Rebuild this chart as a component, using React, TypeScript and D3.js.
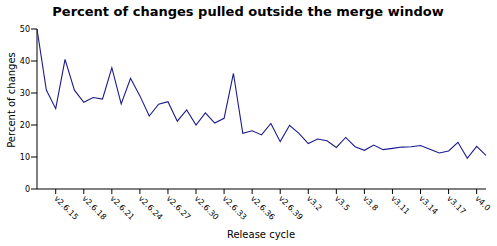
import React from "react";
import * as d3 from "d3";

const releases: string[] = [
  "v2.6.13","v2.6.14","v2.6.15","v2.6.16","v2.6.17","v2.6.18","v2.6.19","v2.6.20","v2.6.21","v2.6.22",
  "v2.6.23","v2.6.24","v2.6.25","v2.6.26","v2.6.27","v2.6.28","v2.6.29","v2.6.30","v2.6.31","v2.6.32",
  "v2.6.33","v2.6.34","v2.6.35","v2.6.36","v2.6.37","v2.6.38","v2.6.39",
  "v3.0","v3.1","v3.2","v3.3","v3.4","v3.5","v3.6","v3.7","v3.8","v3.9","v3.10",
  "v3.11","v3.12","v3.13","v3.14","v3.15","v3.16","v3.17","v3.18","v3.19","v4.0","v4.1",
];

const percents: number[] = [
  50, 30.9, 25.1, 40.5, 30.9, 27.1, 28.6, 28.1, 37.9, 26.6,
  34.6, 29.1, 22.8, 26.5, 27.3, 21.2, 24.7, 20.0, 23.8, 20.6,
  22.1, 36.1, 17.4, 18.2, 16.9, 20.5, 14.8,
  19.9, 17.4, 14.2, 15.6, 15.1, 13.0, 16.1, 13.2, 12.1, 13.75, 12.3,
  12.7, 13.1, 13.2, 13.6, 12.4, 11.25, 11.9, 14.6, 9.6, 13.3, 10.5,
];

const tickLabels: string[] = [
  "v2.6.15","v2.6.18","v2.6.21","v2.6.24","v2.6.27","v2.6.30","v2.6.33","v2.6.36","v2.6.39",
  "v3.2","v3.5","v3.8","v3.11","v3.14","v3.17","v4.0",
];

const yTicks: number[] = [0, 10, 20, 30, 40, 50];

const title = "Percent of changes pulled outside the merge window";
const xTitle = "Release cycle";
const yTitle = "Percent of changes";

export default function App() {
  const W = 497, H = 246;
  const left = 37, right = 486, top = 29, bottom = 189;
  const x = d3.scalePoint<string>().domain(releases).range([left, right]);
  const y = d3.scaleLinear().domain([0, 50]).range([bottom, top]);
  const line = d3
    .line<number>()
    .x((_, i) => x(releases[i]) as number)
    .y((d) => y(d));
  const font = "DejaVu Sans, sans-serif";
  return (
    <svg
      width={W}
      height={H}
      style={{ position: "absolute", left: 0, top: 0, background: "#fff" }}
      fontFamily={font}
    >
      <text x={248} y={16} textAnchor="middle" fontSize={13} fontWeight="bold" fill="#000">
        {title}
      </text>
      {/* y axis */}
      <line x1={left} x2={left} y1={top} y2={bottom} stroke="#000" strokeWidth={1} />
      {yTicks.map((t) => (
        <g key={t}>
          <line x1={left - 6} x2={left} y1={y(t)} y2={y(t)} stroke="#000" />
          <text x={left - 7} y={y(t)} dy="0.35em" textAnchor="end" fontSize={8} fill="#000">
            {t}
          </text>
        </g>
      ))}
      {/* x axis */}
      <line x1={left} x2={right} y1={bottom} y2={bottom} stroke="#000" strokeWidth={1} />
      {tickLabels.map((t) => {
        const tx = x(t) as number;
        return (
          <g key={t}>
            <line x1={tx} x2={tx} y1={bottom} y2={bottom + 5} stroke="#000" />
            <text
              transform={`translate(${tx},${bottom + 8}) rotate(45)`}
              fontSize={8}
              fill="#000"
              dy="0.35em"
              textAnchor="start"
            >
              {t}
            </text>
          </g>
        );
      })}
      <text x={261} y={238} textAnchor="middle" fontSize={10} fill="#000">
        {xTitle}
      </text>
      <text
        transform={`translate(15,100) rotate(-90)`}
        textAnchor="middle"
        fontSize={10}
        fill="#000"
      >
        {yTitle}
      </text>
      <path d={line(percents) || ""} fill="none" stroke="#1a1a8f" strokeWidth={1.1} />
    </svg>
  );
}
